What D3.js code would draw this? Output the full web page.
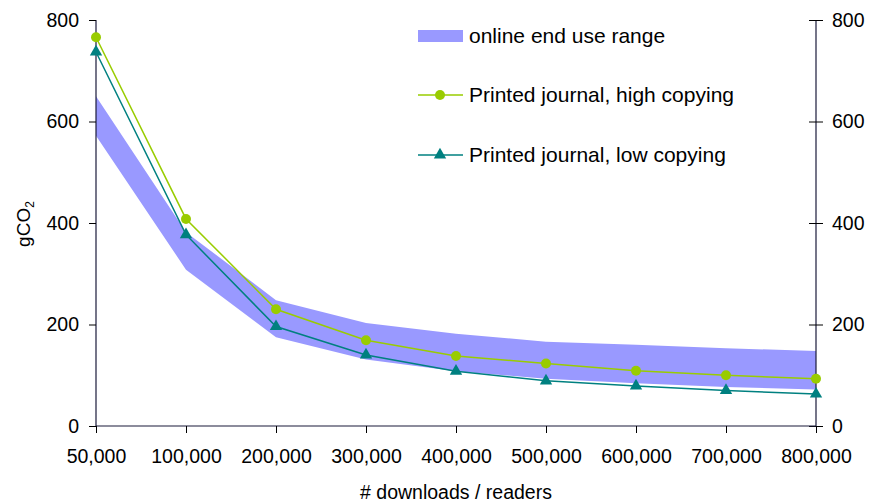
<!DOCTYPE html>
<html><head><meta charset="utf-8">
<script src="https://cdn.jsdelivr.net/npm/d3@7"></script>
<style>
body{margin:0;background:#fff;}
text{font-family:"Liberation Sans",Arial,sans-serif;}
</style></head>
<body><svg id="c" width="870" height="504"></svg>
<script>
const categories = ["50,000","100,000","200,000","300,000","400,000","500,000","600,000","700,000","800,000"];
const rangeLow  = [572, 308, 175, 131, 108, 93, 84, 77, 72];
const rangeHigh = [650, 382, 248, 203, 182, 166, 160, 153, 148];
const highCopying = [766, 408, 230, 169, 138, 123, 109, 100, 93];
const lowCopying  = [737, 377, 196, 140, 108, 89, 79, 70, 63];
const yTicks = [0, 200, 400, 600, 800];
const seriesNames = ["online end use range","Printed journal, high copying","Printed journal, low copying"];

const svg = d3.select("#c");
const L = 96, R = 816, T = 20, B = 426;
const x = d3.scalePoint().domain(categories).range([L, R]);
const y = d3.scaleLinear().domain([0, 800]).range([B, T]);
const bandCol = "#9999FF", hiCol = "#99CC00", loCol = "#008080";
const fs = 19.5;

// band
const rows = categories.map((c,i)=>({c, lo:rangeLow[i], hi:rangeHigh[i], h:highCopying[i], l:lowCopying[i]}));
svg.append("path").datum(rows)
  .attr("d", d3.area().x(d=>x(d.c)).y0(d=>y(d.lo)).y1(d=>y(d.hi)))
  .attr("fill", bandCol);

// axes
const ax = svg.append("g").attr("transform",`translate(${L},0)`)
  .call(d3.axisLeft(y).tickValues(yTicks).tickSize(7).tickPadding(10));
const axR = svg.append("g").attr("transform",`translate(${R},0)`)
  .call(d3.axisRight(y).tickValues(yTicks).tickSize(7).tickPadding(9));
axR.selectAll(".tick line").attr("x1",-7);
const axB = svg.append("g").attr("transform",`translate(0,${B})`)
  .call(d3.axisBottom(x).tickSize(7).tickPadding(16));
[ax,axR,axB].forEach(g=>{
  g.select(".domain").attr("stroke","#1a1a3a").attr("stroke-width",1.2);
  g.selectAll(".tick line").attr("stroke","#000");
  g.selectAll(".tick text").attr("font-size",fs).attr("fill","#000")
   .attr("font-family","'Liberation Sans',Arial,sans-serif");
});
axB.select(".domain").attr("d",`M${L},0H${R}`);
ax.select(".domain").attr("d",`M0,${B}V${T}`);
axR.select(".domain").attr("d",`M0,${B}V${T}`);

// lines
svg.append("path").datum(rows).attr("fill","none").attr("stroke",hiCol).attr("stroke-width",1.5)
  .attr("d", d3.line().x(d=>x(d.c)).y(d=>y(d.h)));
svg.append("path").datum(rows).attr("fill","none").attr("stroke",loCol).attr("stroke-width",1.5)
  .attr("d", d3.line().x(d=>x(d.c)).y(d=>y(d.l)));
svg.selectAll(".hi").data(rows).join("circle").attr("class","hi")
  .attr("cx",d=>x(d.c)).attr("cy",d=>y(d.h)).attr("r",5).attr("fill",hiCol);
const tri = d3.symbol().type(d3.symbolTriangle).size(66);
svg.selectAll(".lo").data(rows).join("path").attr("class","lo")
  .attr("transform",d=>`translate(${x(d.c)},${y(d.l)})`).attr("d",tri).attr("fill",loCol);

// legend
const lg = svg.append("g");
const ly = [36, 95, 155];
lg.append("rect").attr("x",418).attr("y",ly[0]-6).attr("width",45).attr("height",12).attr("fill",bandCol);
lg.append("line").attr("x1",418).attr("x2",463).attr("y1",ly[1]).attr("y2",ly[1]).attr("stroke",hiCol).attr("stroke-width",1.5);
lg.append("circle").attr("cx",440).attr("cy",ly[1]).attr("r",5).attr("fill",hiCol);
lg.append("line").attr("x1",418).attr("x2",463).attr("y1",ly[2]).attr("y2",ly[2]).attr("stroke",loCol).attr("stroke-width",1.5);
lg.append("path").attr("transform",`translate(440,${ly[2]})`).attr("d",tri).attr("fill",loCol);
seriesNames.forEach((n,i)=>{
  lg.append("text").attr("x",469).attr("y",ly[i]).attr("dy","0.35em").attr("font-size",21).text(n);
});

// titles
svg.append("text").attr("x",456).attr("y",499).attr("text-anchor","middle").attr("font-size",fs)
  .text("# downloads / readers");
const yt = svg.append("text").attr("transform","translate(30,224) rotate(-90)").attr("text-anchor","middle").attr("font-size",19);
yt.append("tspan").text("gCO");
yt.append("tspan").attr("font-size",12).attr("dy",4).text("2");
</script></body></html>
